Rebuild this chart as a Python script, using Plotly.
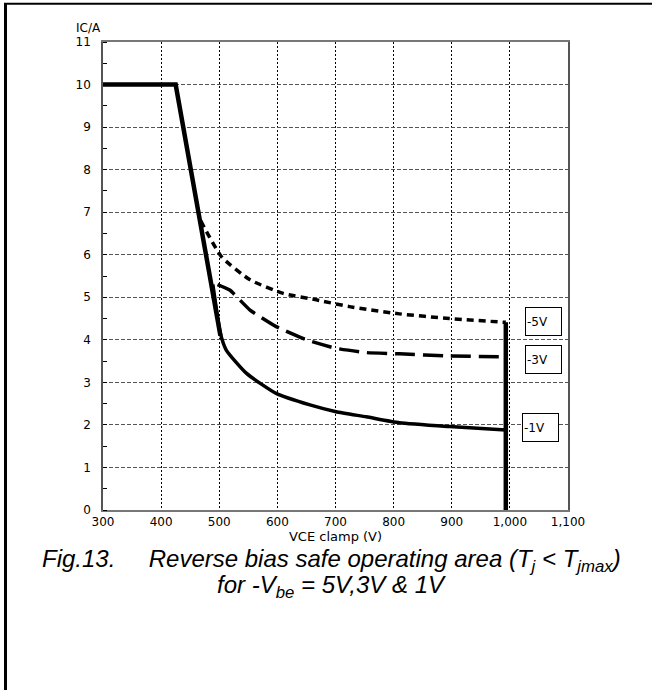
import plotly.graph_objects as go

# ---- data ----
x_ticks = [300, 400, 500, 600, 700, 800, 900, 1000, 1100]
x_ticklabels = ["300", "400", "500", "600", "700", "800", "900", "1,000", "1,100"]
y_ticks = list(range(0, 12))

env_v = [300, 425, 502]
env_i = [10, 10, 4.1]

v1_v = [489, 502, 512, 547, 598, 656, 701, 753, 810, 896, 993]
v1_i = [5.3, 4.15, 3.76, 3.21, 2.74, 2.47, 2.31, 2.19, 2.05, 1.96, 1.88]

v5_v = [468, 504, 553, 610, 667, 724, 810, 896, 993]
v5_i = [6.8, 5.95, 5.41, 5.09, 4.94, 4.78, 4.61, 4.5, 4.41]

v3_v = [497, 518, 553, 598, 650, 701, 753, 810, 896, 993]
v3_i = [5.3, 5.17, 4.7, 4.31, 4.0, 3.8, 3.7, 3.67, 3.62, 3.6]

clamp_v = [993, 993]
clamp_i = [0, 4.41]

labels = ["-5V", "-3V", "-1V"]
label_v = [1057, 1057, 1053]
label_i = [4.44, 3.54, 1.93]

# ---- figure ----
W, H = 652, 690
ML, MR, MT, MB = 103, 84, 42, 180
PW, PH = W - ML - MR, H - MT - MB

def px_x(p):
    return (p - ML) / PW

def px_y(p):
    return (H - MB - p) / PH

fig = go.Figure()
fig.add_trace(go.Scatter(x=v1_v, y=v1_i, mode="lines",
                         line=dict(color="black", width=3.5, shape="spline", smoothing=0.5)))
fig.add_trace(go.Scatter(x=env_v, y=env_i, mode="lines",
                         line=dict(color="black", width=4.5)))
fig.add_trace(go.Scatter(x=v5_v, y=v5_i, mode="lines",
                         line=dict(color="black", width=3.5, dash="7px,5px", shape="spline", smoothing=0.5)))
fig.add_trace(go.Scatter(x=v3_v, y=v3_i, mode="lines",
                         line=dict(color="black", width=3.5, dash="20px,8px", shape="spline", smoothing=0.5)))
fig.add_trace(go.Scatter(x=clamp_v, y=clamp_i, mode="lines",
                         line=dict(color="black", width=4.5)))

font_main = "DejaVu Sans, Arial, sans-serif"

for t, xv, yv in zip(labels, label_v, label_i):
    fig.add_annotation(x=xv, y=yv, text=t, showarrow=False, xref="x", yref="y",
                       width=33, height=25, align="left", borderwidth=1, bordercolor="black",
                       borderpad=1, bgcolor="white", font=dict(size=12, color="black", family=font_main))

fig.add_annotation(x=px_x(103), y=px_y(28), xref="paper", yref="paper", text="IC/A",
                   showarrow=False, xanchor="right", yanchor="middle",
                   font=dict(size=12, color="black", family=font_main))

cap_font = dict(size=24, color="black", family="Liberation Sans, Arial, sans-serif")
fig.add_annotation(x=px_x(331), y=px_y(560), xref="paper", yref="paper",
                   text="<i>Fig.13.&nbsp;&nbsp;&nbsp;&nbsp; Reverse bias safe operating area (T<sub>j</sub> &lt; T<sub>jmax</sub>)</i>",
                   showarrow=False, xanchor="center", yanchor="middle", font=cap_font)
fig.add_annotation(x=px_x(331), y=px_y(586), xref="paper", yref="paper",
                   text="<i>for -V<sub>be</sub> = 5V,3V &amp; 1V</i>",
                   showarrow=False, xanchor="center", yanchor="middle", font=cap_font)

# outer frame (left and top edges)
fig.add_shape(type="line", xref="paper", yref="paper", x0=px_x(5.5), x1=px_x(5.5),
              y0=px_y(3), y1=px_y(700), line=dict(color="black", width=3))
fig.add_shape(type="line", xref="paper", yref="paper", x0=px_x(4), x1=px_x(660),
              y0=px_y(3.7), y1=px_y(3.7), line=dict(color="black", width=2))

fig.update_layout(
    width=W, height=H,
    margin=dict(l=ML, r=MR, t=MT, b=MB),
    paper_bgcolor="white", plot_bgcolor="white",
    showlegend=False,
    font=dict(family=font_main, size=12, color="black"),
)
fig.update_xaxes(range=[300, 1100], tickvals=x_ticks, ticktext=x_ticklabels,
                 showgrid=True, gridcolor="black", gridwidth=1, griddash="2px,2px",
                 showline=True, linecolor="#777", linewidth=1.5, mirror=True,
                 ticks="", zeroline=False,
                 title=dict(text="VCE clamp (V)", standoff=2, font=dict(size=13)),
                 tickfont=dict(size=12))
fig.update_yaxes(range=[0, 11], tickvals=y_ticks,
                 showgrid=True, gridcolor="#555", gridwidth=1, griddash="4px,2px",
                 showline=True, linecolor="#555", linewidth=1.5, mirror=True,
                 ticks="", zeroline=False, ticklabelstandoff=8,
                 minor=dict(dtick=0.5, ticks="inside", ticklen=4, tickcolor="black", showgrid=False),
                 tickfont=dict(size=12))

fig.write_html("out.html", config={"displayModeBar": False},
               post_script="document.body.style.margin='0';")
